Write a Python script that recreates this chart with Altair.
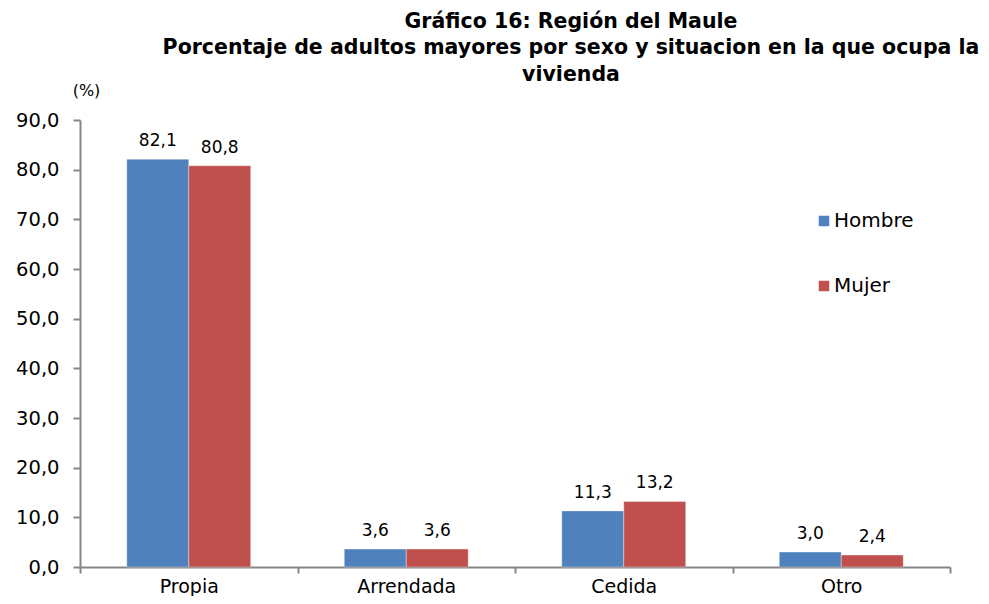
import altair as alt
import pandas as pd

categories = ["Propia", "Arrendada", "Cedida", "Otro"]
series = ["Hombre", "Mujer"]
hombre = [82.1, 3.6, 11.3, 3.0]
mujer = [80.8, 3.6, 13.2, 2.4]
colors = ["#4F81BD", "#C0504D"]
y_ticks = [0, 10, 20, 30, 40, 50, 60, 70, 80, 90]

rows = []
for c, h, m in zip(categories, hombre, mujer):
    rows.append({"cat": c, "sexo": "Hombre", "v": h})
    rows.append({"cat": c, "sexo": "Mujer", "v": m})
df = pd.DataFrame(rows)
df["lbl"] = df["v"].map(lambda v: f"{v:.1f}".replace(".", ","))

FONT = "DejaVu Sans"

x = alt.X("cat:N", sort=categories, title=None,
          scale=alt.Scale(paddingInner=0, paddingOuter=0),
          axis=alt.Axis(tickBand="extent", labelAngle=0, labelFontSize=19,
                        labelFont=FONT, labelColor="#000000", labelPadding=4,
                        domainColor="#868686", tickColor="#868686",
                        tickSize=6, domainWidth=2, tickWidth=2))
xo = alt.XOffset("sexo:N", sort=series,
                 scale=alt.Scale(paddingInner=0, paddingOuter=0.755))
y = alt.Y("v:Q", title="(%)",
          scale=alt.Scale(domain=[0, 90], nice=False),
          axis=alt.Axis(values=y_ticks, grid=False,
                        labelExpr="replace(format(datum.value, '.1f'), '.', ',')",
                        labelFontSize=19.5, labelFont=FONT, labelColor="#000000",
                        labelPadding=14, tickSize=7, domainColor="#868686",
                        tickColor="#868686", domainWidth=2, tickWidth=2,
                        titleAngle=0, titleX=6, titleY=-22, titleAlign="center",
                        titleFontSize=16, titleFontWeight="normal",
                        titleFont=FONT, titleColor="#000000"))
color = alt.Color("sexo:N", sort=series,
                  scale=alt.Scale(domain=series, range=colors),
                  legend=alt.Legend(title=None, orient="none", legendX=734,
                                    legendY=91, symbolType="square",
                                    symbolSize=110, symbolStrokeWidth=0,
                                    labelFontSize=20, labelFont=FONT,
                                    labelColor="#000000", rowPadding=45,
                                    labelOffset=0))

base = alt.Chart(df)
bars = base.mark_bar(stroke="#ffffff", strokeWidth=1, strokeOpacity=0.35).encode(
    x=x, xOffset=xo, y=y, color=color)
labels = base.mark_text(baseline="alphabetic", dy=-13, fontSize=17,
                        font=FONT, color="#000000").encode(
    x=x, xOffset=xo, y=y, text="lbl:N")

chart = (bars + labels).properties(
    width=870, height=447,
    title=alt.TitleParams(
        ["Gráfico 16: Región del Maule",
         "Porcentaje  de adultos mayores por sexo y situacion en la que ocupa la",
         "vivienda"],
        anchor="middle", dx=56, fontSize=20.5, font=FONT, fontWeight="bold",
        color="#000000", lineHeight=26.5, offset=-3),
    autosize=alt.AutoSizeParams(type="none"),
    padding={"left": 72, "top": 112, "right": 31, "bottom": 29},
).configure_view(stroke=None)

chart.save("out.html", embed_options={"renderer": "svg", "actions": False})
